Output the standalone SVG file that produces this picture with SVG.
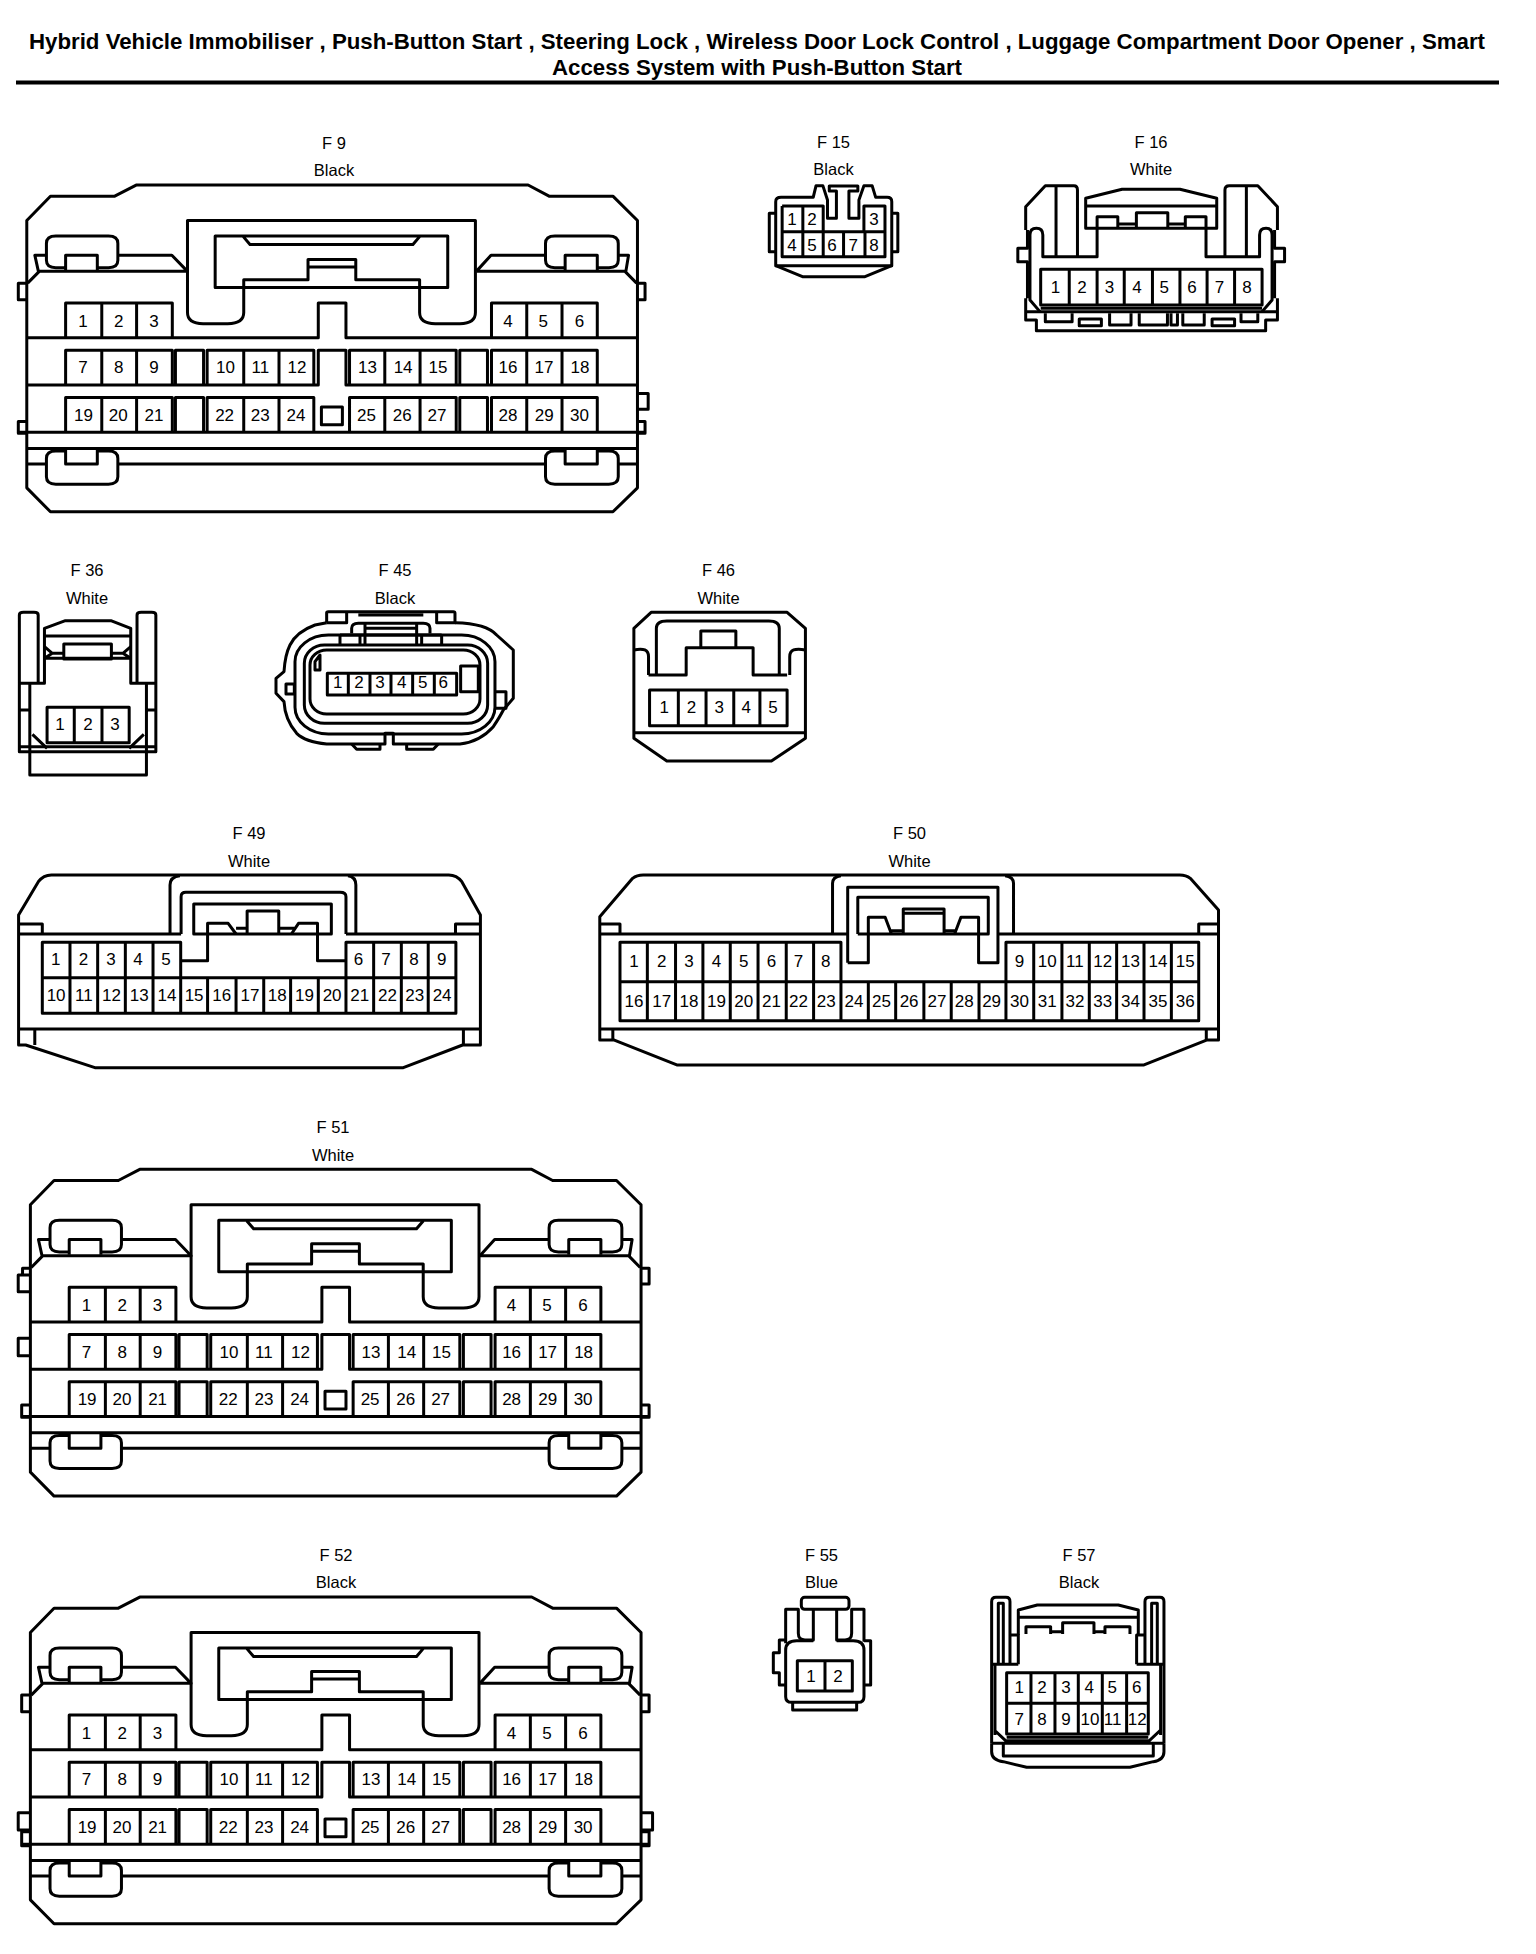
<svg xmlns="http://www.w3.org/2000/svg" width="1536" height="1954" viewBox="0 0 1536 1954">
<style>
.l{fill:none;stroke:#000;stroke-width:3;vector-effect:non-scaling-stroke;stroke-linejoin:round}
text{font-family:"Liberation Sans",Arial,sans-serif;fill:#000;text-anchor:middle}
.p{font-size:17px}
.n{font-size:16.5px}
.t{font-size:22px;font-weight:bold}
</style>
<defs>
<g id="b30">
<path class="l" d="M60,1445 V652 L113,580 H257 L305,547 H1183 L1230,580 H1373 L1428,652 V1445 L1373,1516 H113 Z"/>
<path class="l" d="M420,652 H1065 V925 Q1065,958 1030,958 H975 Q940,958 940,925 V828 H797 V768 H690 V828 H546 V925 Q546,958 510,958 H455 Q420,958 420,925 Z"/>
<path class="l" d="M482,698 H1003 V851 H482 Z M545,700 L560,723 H925 L940,700 M690,790 H797"/>
<path class="l" d="M62,838 L88,803 H420 L385,755 H264 M104,755 H78 L86,803 M1067,803 L1100,755 H1222 M1385,755 H1408 L1402,803 M1067,803 H1400 L1426,838"/>
<path class="l" d="M147,792 H125 Q104,792 104,770 V720 Q104,698 125,698 H243 Q264,698 264,720 V770 Q264,792 243,792 H218 M147,800 V755 H218 V800"/>
<path class="l" d="M1266,792 H1243 Q1222,792 1222,770 V720 Q1222,698 1243,698 H1364 Q1385,698 1385,720 V770 Q1385,792 1364,792 H1338 M1266,800 V755 H1338 V800"/>
<path class="l" d="M60,1000 H713 V897 H775 V1000 H1428 M60,1140 H713 V1037 H775 V1140 H1428 M40,1280 H1445 M60,1328 H1428 M60,1374 H104 M264,1374 H1222 M1385,1374 H1428"/>
<path class="l" d="M147,1000 V897 H386 V1000 M228,897 V1000 M306,897 V1000 M1101,1000 V897 H1338 V1000 M1180,897 V1000 M1259,897 V1000"/>
<path class="l" d="M147,1140 V1037 H386 V1140 M228,1037 V1140 M306,1037 V1140 M393,1140 V1037 H456 V1140 M464,1140 V1037 H703 V1140 M546,1037 V1140 M625,1037 V1140 M783,1140 V1037 H1022 V1140 M862,1037 V1140 M941,1037 V1140 M1030,1140 V1037 H1092 V1140 M1101,1140 V1037 H1338 V1140 M1180,1037 V1140 M1259,1037 V1140"/>
<path class="l" d="M147,1280 V1177 H386 V1280 M228,1177 V1280 M306,1177 V1280 M393,1280 V1177 H456 V1280 M464,1280 V1177 H703 V1280 M546,1177 V1280 M625,1177 V1280 M783,1280 V1177 H1022 V1280 M862,1177 V1280 M941,1177 V1280 M1030,1280 V1177 H1092 V1280 M1101,1280 V1177 H1338 V1280 M1180,1177 V1280 M1259,1177 V1280 M720,1205 H767 V1258 H720 Z"/>
<path class="l" d="M147,1336 H125 Q104,1336 104,1358 V1412 Q104,1434 125,1434 H243 Q264,1434 264,1412 V1358 Q264,1336 243,1336 H218 M147,1330 V1374 H218 V1330"/>
<path class="l" d="M1266,1336 H1243 Q1222,1336 1222,1358 V1412 Q1222,1434 1243,1434 H1364 Q1385,1434 1385,1412 V1358 Q1385,1336 1364,1336 H1338 M1266,1330 V1374 H1338 V1330"/>
</g>
</defs>

<g id="title">
<text class="t" x="757" y="49" textLength="1456" lengthAdjust="spacingAndGlyphs">Hybrid Vehicle Immobiliser , Push-Button Start , Steering Lock , Wireless Door Lock Control , Luggage Compartment Door Opener , Smart</text>
<text class="t" x="757" y="75" textLength="410" lengthAdjust="spacingAndGlyphs">Access System with Push-Button Start</text>
<rect x="16" y="80.500" width="1483" height="4" fill="#000"/>
</g>

<g id="F9">
<text class="n" x="334" y="148.700">F 9</text><text class="n" x="334" y="175.500">Black</text>
<g transform="translate(0,.6) scale(.4464,.3372)"><use href="#b30"/>
<path class="l" d="M60,838 H41 V887 H60 M60,1248 H41 V1283 H60 M1428,838 H1445 V887 H1428 M1428,1165 H1452 V1212 H1428 M1428,1248 H1445 V1283 H1428"/></g>
<text class="p" x="83" y="326.700">1</text><text class="p" x="118.700" y="326.700">2</text><text class="p" x="154" y="326.700">3</text><text class="p" x="508" y="326.700">4</text><text class="p" x="543.300" y="326.700">5</text><text class="p" x="579.500" y="326.700">6</text>
<text class="p" x="83" y="373.300">7</text><text class="p" x="118.700" y="373.300">8</text><text class="p" x="154" y="373.300">9</text><text class="p" x="225.400" y="373.300">10</text><text class="p" x="260.300" y="373.300">11</text><text class="p" x="296.900" y="373.300">12</text><text class="p" x="367.400" y="373.300">13</text><text class="p" x="403.100" y="373.300">14</text><text class="p" x="437.900" y="373.300">15</text><text class="p" x="508" y="373.300">16</text><text class="p" x="544" y="373.300">17</text><text class="p" x="580" y="373.300">18</text>
<text class="p" x="83.500" y="420.700">19</text><text class="p" x="118.300" y="420.700">20</text><text class="p" x="154" y="420.700">21</text><text class="p" x="224.600" y="420.700">22</text><text class="p" x="260.300" y="420.700">23</text><text class="p" x="296" y="420.700">24</text><text class="p" x="366.500" y="420.700">25</text><text class="p" x="402.200" y="420.700">26</text><text class="p" x="437" y="420.700">27</text><text class="p" x="508" y="420.700">28</text><text class="p" x="544.200" y="420.700">29</text><text class="p" x="579.500" y="420.700">30</text>
</g>

<g id="F15">
<text class="n" x="833.500" y="148.300">F 15</text><text class="n" x="833.500" y="175">Black</text>
<g transform="translate(740,120) scale(.3571,.3333)">
<path class="l" d="M100,437 V245 Q100,232 115,232 H205 L213,197 H232 L245,240 V295 H270 V213 H250 V198 H330 V213 H305 V295 H333 V240 L347,197 H370 L380,232 H412 Q425,232 425,245 V437 Z"/>
<path class="l" d="M100,437 L175,470 H350 L425,437 M100,280 H82 V395 H100 M425,280 H442 V395 H425"/>
<path class="l" d="M118,258 H233 V335 M347,335 V258 H406 V410 H118 V258 M118,335 H406 M176,258 V410 M233,335 V410 M290,335 V410 M350,335 V410"/>
</g>
<text class="p" x="792.100" y="225">1</text><text class="p" x="812.100" y="225">2</text><text class="p" x="873.900" y="225">3</text>
<text class="p" x="792.100" y="250.700">4</text><text class="p" x="812.100" y="250.700">5</text><text class="p" x="832.100" y="250.700">6</text><text class="p" x="853.200" y="250.700">7</text><text class="p" x="873.900" y="250.700">8</text>
</g>

<g id="F16">
<text class="n" x="1151" y="148.300">F 16</text><text class="n" x="1151" y="175">White</text>
<g transform="translate(740,120) scale(.3571,.3333)">
<path class="l" d="M800,330 V260 L855,197 H935 Q945,197 945,210 V410 M885,200 V410 M1358,410 V210 Q1358,197 1370,197 H1450 L1505,260 V330 M1418,200 V410"/>
<path class="l" d="M968,235 L1070,208 H1232 L1335,235 V325 H968 Z M968,258 H1335 M1000,325 V290 H1058 V325 M1058,312 H1110 M1110,325 V278 H1198 V325 M1198,312 H1247 M1247,325 V290 H1305 V325"/>
<path class="l" d="M1000,325 V410 H848 V345 Q848,325 830,325 Q812,325 812,345 V540 L840,575 M1305,325 V410 H1455 V345 Q1455,325 1473,325 Q1490,325 1490,345 V540 L1462,575"/>
<path class="l" d="M805,330 V385 H778 V425 H805 V535 M1497,330 V385 H1525 V425 H1497 V535 M800,535 V600 H830 V632 H1472 V600 H1505 V535 M800,575 H1505 M842,565 H1462"/>
<path class="l" d="M855,580 V605 H930 V580 M950,597 H1012 V617 H950 Z M1035,580 V615 H1095 V580 M1118,580 V615 H1197 V580 M1207,580 V615 H1225 V580 M1240,580 V615 H1300 V580 M1322,597 H1385 V617 H1322 Z M1403,580 V605 H1450 V580"/>
<path class="l" d="M842,448 H1462 V555 H842 Z M922,448 V555 M1000,448 V555 M1076,448 V555 M1155,448 V555 M1232,448 V555 M1308,448 V555 M1385,448 V555"/>
</g>
<text class="p" x="1055.400" y="292.700">1</text><text class="p" x="1082.100" y="292.700">2</text><text class="p" x="1109.600" y="292.700">3</text><text class="p" x="1137.100" y="292.700">4</text><text class="p" x="1164.300" y="292.700">5</text><text class="p" x="1192.100" y="292.700">6</text><text class="p" x="1219.600" y="292.700">7</text><text class="p" x="1247.100" y="292.700">8</text>
</g>

<g id="F36">
<text class="n" x="87" y="575.700">F 36</text><text class="n" x="87" y="603.500">White</text>
<g transform="translate(0,550) scale(.523,.3333)">
<path class="l" d="M37,400 V195 Q37,187 45,187 H65 Q73,187 73,195 V400 M262,400 V195 Q262,187 270,187 H290 Q298,187 298,195 V400 M37,400 V605 H298 V400 M37,400 H85 V235 L125,212 H212 L250,235 V400 H298"/>
<path class="l" d="M57,400 V605 M280,400 V605 M37,480 H57 M280,480 H298 M37,590 H298 M57,605 V675 H280 V605"/>
<path class="l" d="M85,258 H250 M85,325 H250 M122,282 H213 V327 H122 Z M85,290 L100,310 L85,325 M100,310 H122 M250,290 L235,310 L250,325 M235,310 H213"/>
<path class="l" d="M90,472 H247 V578 H90 Z M142,472 V578 M195,472 V578 M62,553 L90,595 M275,553 L247,595"/>
</g>
<text class="p" x="60.100" y="730">1</text><text class="p" x="87.900" y="730">2</text><text class="p" x="115.100" y="730">3</text>
</g>

<g id="F45">
<text class="n" x="395" y="575.700">F 45</text><text class="n" x="395" y="603.500">Black</text>
<g transform="translate(260,590) scale(.3333)">
<path class="l" d="M200,98 L165,105 Q110,125 90,165 Q75,195 72,245 L48,265 V310 L72,335 Q75,390 110,430 Q135,455 200,462 H375 V430 H400 V462 H600 Q660,455 700,410 Q720,380 730,360 L760,325 V180 L710,135 Q680,100 585,98"/>
<rect class="l" x="105" y="135" width="600" height="297" rx="100" ry="80"/>
<rect class="l" x="133" y="165" width="550" height="235" rx="60" ry="55"/>
<rect class="l" x="150" y="180" width="510" height="192" rx="50" ry="45"/>
<path class="l" d="M180,195 L165,215 V240 H180 Z"/>
<path class="l" d="M200,98 V68 Q200,65 205,65 H580 Q585,65 585,70 V98 H530 V70 M200,98 H260 V70 M295,75 H490"/>
<path class="l" d="M275,130 V115 Q275,100 295,100 H490 Q510,100 510,115 V130 M315,100 V165 M470,100 V165 M315,115 H470 M240,135 H545 M240,135 V165 M300,135 V165 M485,135 V165 M545,135 V165"/>
<path class="l" d="M202,250 H590 V315 H202 Z M265,250 V315 M330,250 V315 M393,250 V315 M458,250 V315 M523,250 V315 M602,228 H655 V305 H602 Z M78,282 H103 V312 H78 Z M705,305 H738 V355 H705 M275,462 L290,478 H360 V462 M440,462 V478 H520 L535,462"/>
</g>
<text class="p" x="337.700" y="688.300">1</text><text class="p" x="359" y="688.300">2</text><text class="p" x="380" y="688.300">3</text><text class="p" x="401.700" y="688.300">4</text><text class="p" x="422.700" y="688.300">5</text><text class="p" x="443.300" y="688.300">6</text>
</g>

<g id="F46">
<text class="n" x="718.500" y="575.700">F 46</text><text class="n" x="718.500" y="603.500">White</text>
<g transform="translate(0,550) scale(.523,.3333)">
<path class="l" d="M1212,235 L1245,187 H1505 L1540,235 V565 L1475,633 H1275 L1212,565 Z"/>
<path class="l" d="M1255,375 V235 Q1255,213 1275,213 H1470 Q1490,213 1490,235 V375 M1240,375 H1312 V293 H1340 V243 H1407 V293 H1440 V375 H1505 M1340,293 H1407 M1212,300 Q1240,290 1240,320 V375 M1540,300 Q1510,290 1510,320 V375 M1212,548 H1540"/>
<path class="l" d="M1242,420 H1505 V527 H1242 Z M1297,420 V527 M1350,420 V527 M1403,420 V527 M1453,420 V527"/>
</g>
<text class="p" x="664.200" y="713.300">1</text><text class="p" x="691.400" y="713.300">2</text><text class="p" x="719.200" y="713.300">3</text><text class="p" x="746.300" y="713.300">4</text><text class="p" x="773" y="713.300">5</text>
</g>

<g id="F49">
<text class="n" x="249" y="839">F 49</text><text class="n" x="249" y="866.500">White</text>
<g transform="translate(0,810) scale(.3954,.3333)">
<path class="l" d="M47,315 L97,215 Q110,195 130,195 H1135 Q1155,195 1168,215 L1215,315 V705 H1170 L1020,773 H240 L65,705 H47 Z"/>
<path class="l" d="M47,372 H458 M875,372 H1215 M47,657 H1215 M47,342 H107 V372 M1215,342 H1152 V372 M88,657 V705 M1172,657 V705"/>
<path class="l" d="M430,372 V225 Q430,200 455,197 M900,372 V225 Q900,200 880,197 M458,372 V260 Q458,247 470,247 H860 Q875,247 875,260 V372 M490,282 H838 V372 H490 Z"/>
<path class="l" d="M457,452 H525 V340 H577 L597,372 M625,372 V303 H705 V372 M705,355 H745 M737,372 L755,340 H803 V452 H875 M597,355 H625"/>
<path class="l" d="M457,503 V397 H107 V610 H1153 V397 H875 V503 M107,503 H1153 M177,397 V610 M247,397 V610 M317,397 V610 M387,397 V610 M945,397 V610 M1015,397 V610 M1083,397 V610 M525,503 V610 M597,503 V610 M667,503 V610 M735,503 V610 M805,503 V610 M457,503 V610 M875,503 V610"/>
</g>
<text class="p" x="55.800" y="965">1</text><text class="p" x="83.400" y="965">2</text><text class="p" x="111.100" y="965">3</text><text class="p" x="138" y="965">4</text><text class="p" x="166.100" y="965">5</text><text class="p" x="358.600" y="965">6</text><text class="p" x="385.900" y="965">7</text><text class="p" x="414" y="965">8</text><text class="p" x="441.700" y="965">9</text>
<text class="p" x="56.100" y="1000.700">10</text><text class="p" x="83.800" y="1000.700">11</text><text class="p" x="111.500" y="1000.700">12</text><text class="p" x="139.200" y="1000.700">13</text><text class="p" x="166.900" y="1000.700">14</text><text class="p" x="194.100" y="1000.700">15</text><text class="p" x="221.800" y="1000.700">16</text><text class="p" x="249.900" y="1000.700">17</text><text class="p" x="277.200" y="1000.700">18</text><text class="p" x="304.500" y="1000.700">19</text><text class="p" x="332.100" y="1000.700">20</text><text class="p" x="359.800" y="1000.700">21</text><text class="p" x="387.500" y="1000.700">22</text><text class="p" x="414.800" y="1000.700">23</text><text class="p" x="442.100" y="1000.700">24</text>
</g>

<g id="F50">
<text class="n" x="909.500" y="839">F 50</text><text class="n" x="909.500" y="866.500">White</text>
<g transform="translate(580,810) scale(.4209,.3333)">
<path class="l" d="M47,320 L125,205 Q135,195 150,195 H1425 Q1440,195 1450,205 L1517,300 V690 H1490 L1340,765 H230 L80,690 H47 Z"/>
<path class="l" d="M47,372 H636 M995,372 H1517 M47,657 H1517 M47,342 H95 V372 M1517,342 H1470 V372 M78,657 V690 M1488,657 V690"/>
<path class="l" d="M600,372 V220 Q600,200 620,197 M1030,372 V220 Q1030,200 1010,197 M636,458 V232 H993 V458 H947 V322 H905 L890,372 M636,458 H685 V322 H725 L740,372 M660,372 V262 H970 V372 H660 M768,372 V297 H865 V372 M768,310 H865 M737,362 H768 M865,362 H893"/>
<path class="l" d="M620,515 V397 H95 V632 H1470 V397 H1012 V515 M95,515 H1470 M160,397 V632 M227,397 V632 M292,397 V632 M357,397 V632 M423,397 V632 M490,397 V632 M555,397 V632 M1078,397 V632 M1145,397 V632 M1210,397 V632 M1275,397 V632 M1340,397 V632 M1405,397 V632 M620,515 V632 M685,515 V632 M750,515 V632 M817,515 V632 M882,515 V632 M948,515 V632 M1012,515 V632"/>
</g>
<text class="p" x="633.900" y="967.300">1</text><text class="p" x="661.700" y="967.300">2</text><text class="p" x="689" y="967.300">3</text><text class="p" x="716.400" y="967.300">4</text><text class="p" x="743.700" y="967.300">5</text><text class="p" x="771.500" y="967.300">6</text><text class="p" x="798.400" y="967.300">7</text><text class="p" x="825.800" y="967.300">8</text><text class="p" x="1019.400" y="967.300">9</text><text class="p" x="1047.200" y="967.300">10</text><text class="p" x="1074.900" y="967.300">11</text><text class="p" x="1102.800" y="967.300">12</text><text class="p" x="1130.500" y="967.300">13</text><text class="p" x="1157.900" y="967.300">14</text><text class="p" x="1185.200" y="967.300">15</text>
<text class="p" x="633.900" y="1006.700">16</text><text class="p" x="661.700" y="1006.700">17</text><text class="p" x="689" y="1006.700">18</text><text class="p" x="716.400" y="1006.700">19</text><text class="p" x="743.700" y="1006.700">20</text><text class="p" x="771.500" y="1006.700">21</text><text class="p" x="798.400" y="1006.700">22</text><text class="p" x="826.200" y="1006.700">23</text><text class="p" x="854" y="1006.700">24</text><text class="p" x="881.400" y="1006.700">25</text><text class="p" x="909.100" y="1006.700">26</text><text class="p" x="936.900" y="1006.700">27</text><text class="p" x="964.300" y="1006.700">28</text><text class="p" x="991.600" y="1006.700">29</text><text class="p" x="1019.400" y="1006.700">30</text><text class="p" x="1047.200" y="1006.700">31</text><text class="p" x="1074.900" y="1006.700">32</text><text class="p" x="1102.800" y="1006.700">33</text><text class="p" x="1130.500" y="1006.700">34</text><text class="p" x="1157.900" y="1006.700">35</text><text class="p" x="1185.200" y="1006.700">36</text>
</g>

<g id="F51">
<text class="n" x="333" y="1132.700">F 51</text><text class="n" x="333" y="1160.700">White</text>
<g transform="translate(3.6,984.9) scale(.4464,.3372)"><use href="#b30"/></g>
<g transform="translate(0,1100) scale(.4336,.3333)"><path class="l" d="M70,525 H42 V575 H70 M52,525 V505 H70 M70,715 H42 V767 H70 M70,915 H50 V952 H70 M1478,505 H1497 V552 H1478 M1478,915 H1497 V952 H1478"/></g>
<text class="p" x="86.600" y="1310.700">1</text><text class="p" x="122.300" y="1310.700">2</text><text class="p" x="157.600" y="1310.700">3</text><text class="p" x="511.600" y="1310.700">4</text><text class="p" x="546.900" y="1310.700">5</text><text class="p" x="583.100" y="1310.700">6</text>
<text class="p" x="86.600" y="1357.600">7</text><text class="p" x="122.300" y="1357.600">8</text><text class="p" x="157.600" y="1357.600">9</text><text class="p" x="229" y="1357.600">10</text><text class="p" x="263.900" y="1357.600">11</text><text class="p" x="300.500" y="1357.600">12</text><text class="p" x="371" y="1357.600">13</text><text class="p" x="406.700" y="1357.600">14</text><text class="p" x="441.500" y="1357.600">15</text><text class="p" x="511.600" y="1357.600">16</text><text class="p" x="547.600" y="1357.600">17</text><text class="p" x="583.600" y="1357.600">18</text>
<text class="p" x="87.100" y="1405">19</text><text class="p" x="121.900" y="1405">20</text><text class="p" x="157.600" y="1405">21</text><text class="p" x="228.200" y="1405">22</text><text class="p" x="263.900" y="1405">23</text><text class="p" x="299.600" y="1405">24</text><text class="p" x="370.100" y="1405">25</text><text class="p" x="405.800" y="1405">26</text><text class="p" x="440.600" y="1405">27</text><text class="p" x="511.600" y="1405">28</text><text class="p" x="547.800" y="1405">29</text><text class="p" x="583.100" y="1405">30</text>
</g>

<g id="F52">
<text class="n" x="336" y="1560.700">F 52</text><text class="n" x="336" y="1588.300">Black</text>
<g transform="translate(3.6,1412.600) scale(.4464,.3372)"><use href="#b30"/></g>
<g transform="translate(0,1530) scale(.4336,.3333)"><path class="l" d="M70,495 H50 V545 H70 M70,848 H42 V900 H70 M70,905 H50 V947 H70 M1478,495 H1497 V545 H1478 M1478,848 H1505 V900 H1478 M1478,905 H1497 V947 H1478"/></g>
<text class="p" x="86.600" y="1738.700">1</text><text class="p" x="122.300" y="1738.700">2</text><text class="p" x="157.600" y="1738.700">3</text><text class="p" x="511.600" y="1738.700">4</text><text class="p" x="546.900" y="1738.700">5</text><text class="p" x="583.100" y="1738.700">6</text>
<text class="p" x="86.600" y="1785.300">7</text><text class="p" x="122.300" y="1785.300">8</text><text class="p" x="157.600" y="1785.300">9</text><text class="p" x="229" y="1785.300">10</text><text class="p" x="263.900" y="1785.300">11</text><text class="p" x="300.500" y="1785.300">12</text><text class="p" x="371" y="1785.300">13</text><text class="p" x="406.700" y="1785.300">14</text><text class="p" x="441.500" y="1785.300">15</text><text class="p" x="511.600" y="1785.300">16</text><text class="p" x="547.600" y="1785.300">17</text><text class="p" x="583.600" y="1785.300">18</text>
<text class="p" x="87.100" y="1832.700">19</text><text class="p" x="121.900" y="1832.700">20</text><text class="p" x="157.600" y="1832.700">21</text><text class="p" x="228.200" y="1832.700">22</text><text class="p" x="263.900" y="1832.700">23</text><text class="p" x="299.600" y="1832.700">24</text><text class="p" x="370.100" y="1832.700">25</text><text class="p" x="405.800" y="1832.700">26</text><text class="p" x="440.600" y="1832.700">27</text><text class="p" x="511.600" y="1832.700">28</text><text class="p" x="547.800" y="1832.700">29</text><text class="p" x="583.100" y="1832.700">30</text>
</g>

<g id="F55">
<text class="n" x="821.500" y="1560.700">F 55</text><text class="n" x="821.500" y="1588.300">Blue</text>
<g transform="translate(740,1530) scale(.3333,.3333)">
<rect class="l" x="184" y="202" width="143" height="36" rx="10"/>
<path class="l" d="M137,340 V238 H175 V310 Q175,330 195,330 H220 V238 M290,238 V330 H315 Q335,330 335,310 V238 H372 V335"/>
<path class="l" d="M220,332 H170 Q137,332 137,360 V500 Q137,517 155,517 H355 Q372,517 372,500 V360 Q372,332 340,332 H290"/>
<path class="l" d="M137,330 H118 V368 H100 V428 H118 V465 H137 M372,332 H392 V465 H372 M158,517 V540 H350 V517"/>
<path class="l" d="M172,392 H337 V483 H172 Z M255,392 V483"/>
</g>
<text class="p" x="811" y="1681.700">1</text><text class="p" x="838" y="1681.700">2</text>
</g>

<g id="F57">
<text class="n" x="1079" y="1560.700">F 57</text><text class="n" x="1079" y="1588.300">Black</text>
<g transform="translate(740,1530) scale(.3333,.3333)">
<path class="l" d="M755,640 V215 Q755,202 768,202 H798 Q810,202 810,215 V400 M775,400 V220 H790 V400 M810,315 H835 V403 M755,403 H835 M1190,403 H1272 M1272,640 V215 Q1272,202 1260,202 H1228 Q1215,202 1215,215 V400 M1252,400 V220 H1235 V400 M1215,315 H1190 V403"/>
<path class="l" d="M835,315 V240 L892,225 H1135 L1195,240 V315 M835,262 H1195 M858,312 V290 H932 V312 M932,305 H968 M968,312 V278 H1062 V312 M1062,305 H1095 M1095,312 V290 H1170 V312"/>
<path class="l" d="M765,403 V615 M1262,403 V615 M800,622 H1225 M800,632 H1225 M763,600 L800,635 M1262,600 L1225,635 M755,640 H1272 M790,640 V678 H1240 V640 M755,640 V665 Q755,690 790,695 L860,712 H1170 L1240,695 Q1272,690 1272,665 V640"/>
<path class="l" d="M800,428 H1225 V612 H800 Z M800,520 H1225 M873,428 V612 M945,428 V612 M1015,428 V612 M1087,428 V612 M1160,428 V612"/>
</g>
<text class="p" x="1019.300" y="1692.700">1</text><text class="p" x="1042" y="1692.700">2</text><text class="p" x="1066" y="1692.700">3</text><text class="p" x="1089.300" y="1692.700">4</text><text class="p" x="1112.300" y="1692.700">5</text><text class="p" x="1136.700" y="1692.700">6</text>
<text class="p" x="1019.300" y="1725">7</text><text class="p" x="1042" y="1725">8</text><text class="p" x="1066" y="1725">9</text><text class="p" x="1090" y="1725">10</text><text class="p" x="1112.700" y="1725">11</text><text class="p" x="1137.300" y="1725">12</text>
</g>
</svg>
